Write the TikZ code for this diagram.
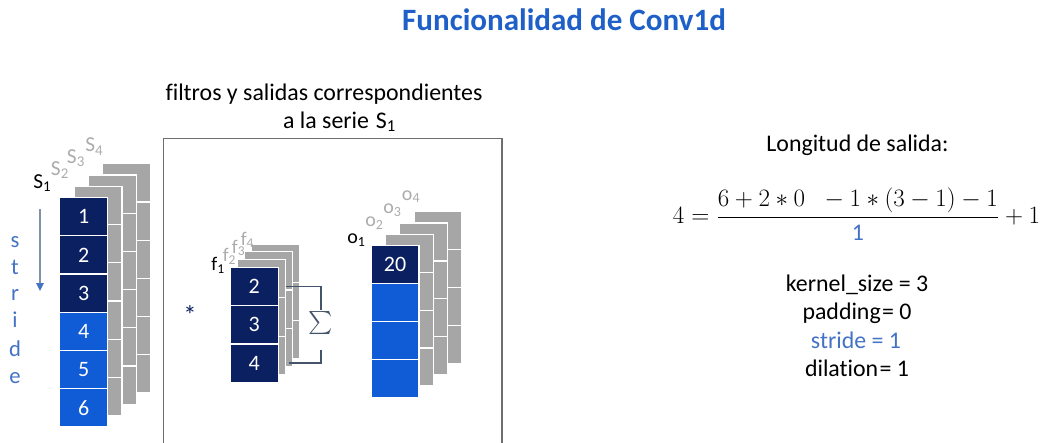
\documentclass[tikz,border=0pt]{standalone}
\usepackage{amsmath}
\usepackage{fontspec}
\setmainfont{Carlito}[Ligatures={NoCommon}]
\usetikzlibrary{arrows.meta}
\definecolor{navy}{RGB}{10,32,96}
\definecolor{bblue}{RGB}{16,92,214}
\definecolor{cgray}{RGB}{166,166,166}
\definecolor{lgray}{RGB}{172,172,172}
\definecolor{titleblue}{RGB}{30,96,200}
\definecolor{sblue}{RGB}{68,114,196}
\definecolor{arrowgray}{RGB}{130,145,170}
\definecolor{slate}{RGB}{68,84,106}
\definecolor{boxgray}{RGB}{110,110,110}
\newcommand\fs[1]{\fontsize{#1}{#1}\selectfont}
% name, x, y, w, h, n  (gray back column)
\newcommand\grayStack[6]{%
  \foreach \i in {1,...,#6}{%
    \node[cell,fill=cgray,minimum width=#4*0.75pt,minimum height=#5*0.75pt] (#1-\i) at (#2,{#3+(\i-1)*#5}) {};
  }}
\begin{document}
\begin{tikzpicture}[x=0.75pt,y=-0.75pt,
  cell/.style={draw=white,line width=0.9pt,inner sep=0pt,anchor=north west,text=white,font=\fs{16.5}},
  scell/.style={cell,minimum width=36pt,minimum height=28.65pt},
  fcell/.style={cell,minimum width=36.3pt,minimum height=28.72pt},
  ocell/.style={cell,minimum width=35.7pt,minimum height=28.42pt},
  lbl/.style={anchor=base west,inner sep=0pt},
  body/.style={anchor=base,inner sep=0pt,font=\fs{17.9}},
  strl/.style={anchor=base,inner sep=0pt,font=\fs{17},text=sblue},
  bracket/.style={draw=slate,line width=0.9pt},
]
\useasboundingbox (0,0) rectangle (1044,442);

% title
\node[anchor=base,inner sep=0pt,font=\fs{23.3}\bfseries,text=titleblue] (title) at (564,31) {Funcionalidad de Conv1d};

% ---- left stack (series) ----
\grayStack{sg3}{101.9}{163.1}{48}{38.2}{6}
\grayStack{sg2}{87.6}{174.4}{48}{38.2}{6}
\grayStack{sg1}{73.3}{185.7}{48}{38.2}{6}
\node[scell,fill=navy] (s-1) at (59,197) {1};
\node[scell,fill=navy] (s-2) at (59,235.2) {2};
\node[scell,fill=navy] (s-3) at (59,273.4) {3};
\node[scell,fill=bblue] (s-4) at (59,311.6) {4};
\node[scell,fill=bblue] (s-5) at (59,349.8) {5};
\node[scell,fill=bblue] (s-6) at (59,388) {6};

\node[lbl,font=\fs{16}] (S1) at (33,188) {S\textsubscript{1}};
\node[lbl,font=\fs{16},text=lgray] (S2) at (50.7,175) {S\textsubscript{2}};
\node[lbl,font=\fs{16},text=lgray] (S3) at (66.7,163) {S\textsubscript{3}};
\node[lbl,font=\fs{16},text=lgray] (S4) at (85,151.7) {S\textsubscript{4}};

% stride
\coordinate (stA) at (40,209);
\coordinate (stB) at (40,291);
\draw[arrowgray,line width=1.1pt,-{Triangle[length=6pt,width=5.5pt,color=sblue]}] (stA) -- (stB);
\node[strl] (l1) at (15,247) {s};
\node[strl] (l2) at (15,274) {t};
\node[strl] (l3) at (15,300.5) {r};
\node[strl] (l4) at (15,327) {i};
\node[strl] (l5) at (15,356) {d};
\node[strl] (l6) at (15,383) {e};

% ---- middle panel ----
\draw[boxgray,line width=0.8pt] (163.3,446) -- (163.3,138.3) -- (502,138.3) -- (502,446);
\node[body] (pt1) at (324,101) {filtros y salidas correspondientes};
\node[body] (pt2) at (339.5,128) {a la serie\kern1pt\ S\textsubscript{1}};

\node[anchor=base,inner sep=0pt,font=\fs{20},text=navy] (ast) at (190,324) {*};

% filters
\grayStack{fg3}{250.6}{243.3}{48.4}{38.3}{3}
\grayStack{fg2}{243.5}{251.1}{48.4}{38.3}{3}
\grayStack{fg1}{236.4}{258.9}{48.4}{38.3}{3}
\node[fcell,fill=navy] (f-1) at (229.3,266.7) {2};
\node[fcell,fill=navy] (f-2) at (229.3,305) {3};
\node[fcell,fill=navy] (f-3) at (229.3,343.3) {4};

\node[lbl,font=\fs{14.5}] (F1) at (211.2,270.5) {f\textsubscript{1}};
\node[lbl,font=\fs{14.5},text=lgray] (F2) at (222.5,261.7) {f\textsubscript{2}};
\node[lbl,font=\fs{14.5},text=lgray] (F3) at (231.7,253) {f\textsubscript{3}};
\node[lbl,font=\fs{14.5},text=lgray] (F4) at (240.5,245) {f\textsubscript{4}};

% sum bracket
\node[inner sep=0pt,font=\fs{17},text=slate] (sig) at (321,323.5) {$\sum$};
\coordinate (sumA) at (321,310);
\coordinate (sumB) at (321,350);
\draw[bracket] (f-1.center -| fg1-1.east) -| (sumA);
\draw[bracket] ([xshift=2pt]f-3.center -| fg1-3.east) -| (sumB);

% outputs
\grayStack{og3}{413.3}{211.1}{47.6}{37.9}{4}
\grayStack{og2}{399.1}{222.4}{47.6}{37.9}{4}
\grayStack{og1}{384.9}{233.7}{47.6}{37.9}{4}
\node[ocell,fill=navy] (o-1) at (370.7,245) {20};
\node[ocell,fill=bblue] (o-2) at (370.7,282.9) {};
\node[ocell,fill=bblue] (o-3) at (370.7,320.8) {};
\node[ocell,fill=bblue] (o-4) at (370.7,358.7) {};

\node[lbl,font=\fs{15}] (O1) at (347,243.5) {o\textsubscript{1}};
\node[lbl,font=\fs{15},text=lgray] (O2) at (365,226.7) {o\textsubscript{2}};
\node[lbl,font=\fs{15},text=lgray] (O3) at (383,213.3) {o\textsubscript{3}};
\node[lbl,font=\fs{15},text=lgray] (O4) at (401.7,200) {o\textsubscript{4}};

% ---- right side ----
\node[body] (len) at (857.5,151.7) {Longitud de salida:};
\node[anchor=base,inner sep=0pt,font=\fs{17.28}] (eq) at (856.5,223.5)
  {\scalebox{1.085}{$\displaystyle 4=\frac{6+2\ast0\;\;-1\ast(3-1)-1}{\mbox{\color{sblue}\fs{16.5}1}}+1$}};
\node[body] (k) at (857,291.7) {kernel\_size = 3};
\node[body] (p) at (857,319) {padding{\kern1pt}= 0};
\node[body,text=sblue] (st) at (856,348.3) {stride = 1};
\node[body] (d) at (857,376.7) {dilation{\kern1pt}= 1};
\end{tikzpicture}
\end{document}
